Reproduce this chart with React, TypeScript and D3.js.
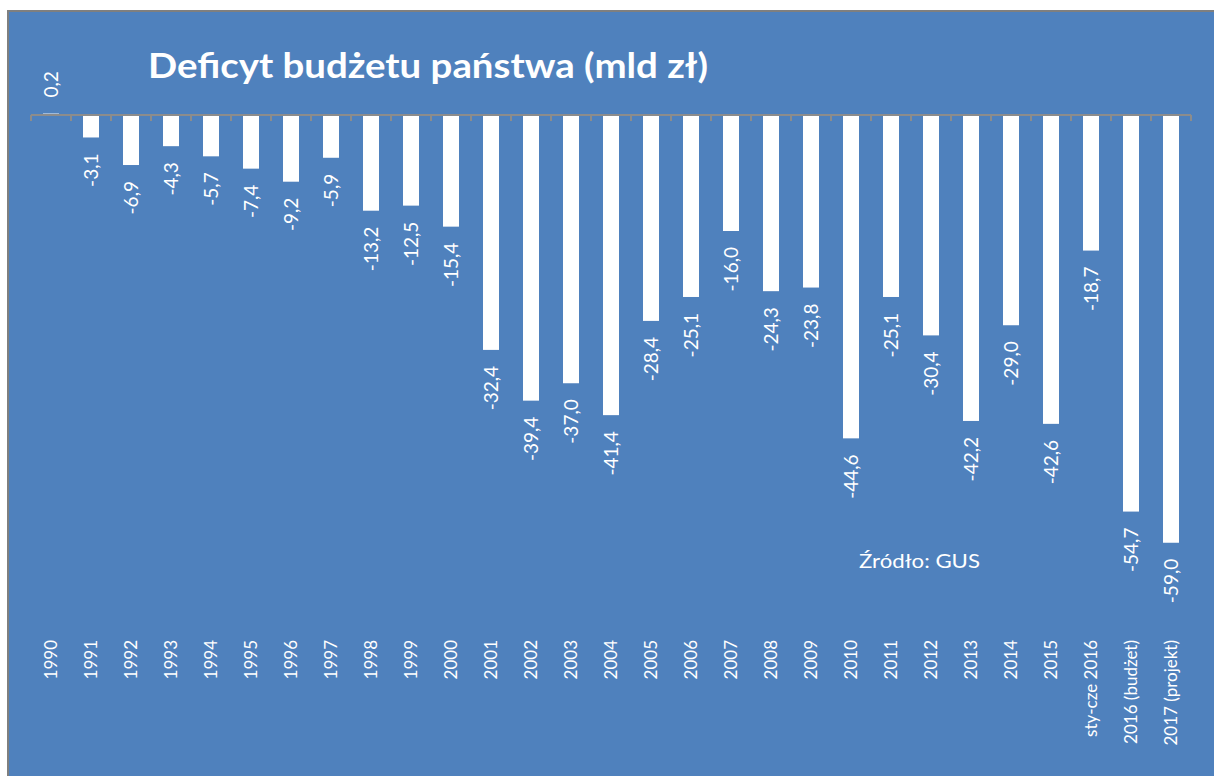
import React from "react";
import * as d3 from "d3";

const categories: string[] = [
  "1990", "1991", "1992", "1993", "1994", "1995", "1996", "1997", "1998", "1999",
  "2000", "2001", "2002", "2003", "2004", "2005", "2006", "2007", "2008", "2009",
  "2010", "2011", "2012", "2013", "2014", "2015", "sty-cze 2016", "2016 (budżet)", "2017 (projekt)",
];
const values: number[] = [
  0.2, -3.1, -6.9, -4.3, -5.7, -7.4, -9.2, -5.9, -13.2, -12.5,
  -15.4, -32.4, -39.4, -37.0, -41.4, -28.4, -25.1, -16.0, -24.3, -23.8,
  -44.6, -25.1, -30.4, -42.2, -29.0, -42.6, -18.7, -54.7, -59.0,
];
const title = "Deficyt budżetu państwa (mld zł)";
const source = "Źródło: GUS";

const W = 1214;
const H = 776;
const FONT = "Lato, 'Open Sans', sans-serif";
const BG = "#4f81bd";

export default function App() {
  const x = d3.scaleBand<string>().domain(categories).range([31, 1191]).padding(0);
  const y = d3.scaleLinear().domain([-60, 0]).range([115 + 60 * 7.25, 115]);
  const bw = x.bandwidth() * 0.4;
  const fmt = (v: number) => d3.format(".1f")(v).replace(".", ",").replace("−", "-");
  const ticks = d3.range(categories.length + 1).map((i) => 31 + i * x.step());
  const y0 = y(0);

  return (
    <svg
      width={W}
      height={H}
      style={{ position: "absolute", left: 0, top: 0, background: "#fff" }}
      fontFamily={FONT}
    >
      <rect x={8} y={11} width={W} height={H} fill={BG} stroke="#7f7f7f" strokeWidth={2} />
      <text
        x={148}
        y={78}
        fill="#fff"
        fontSize={35}
        fontWeight="bold"
        textLength={560}
        lengthAdjust="spacingAndGlyphs"
      >
        {title}
      </text>
      {categories.map((c, i) => {
        const v = values[i];
        const cx = (x(c) as number) + x.bandwidth() / 2;
        const top = Math.min(y(v), y0);
        const h = Math.abs(y(v) - y0);
        return (
          <g key={c}>
            <rect x={cx - bw / 2} y={top} width={bw} height={h} fill="#fff" />
            <text
              transform={`translate(${cx},${v < 0 ? y(v) + 16 : y(v) - 16}) rotate(-90)`}
              textAnchor={v < 0 ? "end" : "start"}
              dy="0.35em"
              fill="#fff"
              fontSize={19}
            >
              {fmt(v)}
            </text>
            <text
              transform={`translate(${cx},640) rotate(-90)`}
              textAnchor="end"
              dy="0.35em"
              fill="#fff"
              fontSize={17}
            >
              {c}
            </text>
          </g>
        );
      })}
      <line x1={31} x2={1191} y1={y0} y2={y0} stroke="#8c8c8c" strokeWidth={2} />
      {ticks.map((t, i) => (
        <line key={i} x1={t} x2={t} y1={y0} y2={y0 + 6} stroke="#8c8c8c" strokeWidth={2} />
      ))}
      <text x={859} y={568} fill="#fff" fontSize={20} textLength={121} lengthAdjust="spacingAndGlyphs">
        {source}
      </text>
    </svg>
  );
}
